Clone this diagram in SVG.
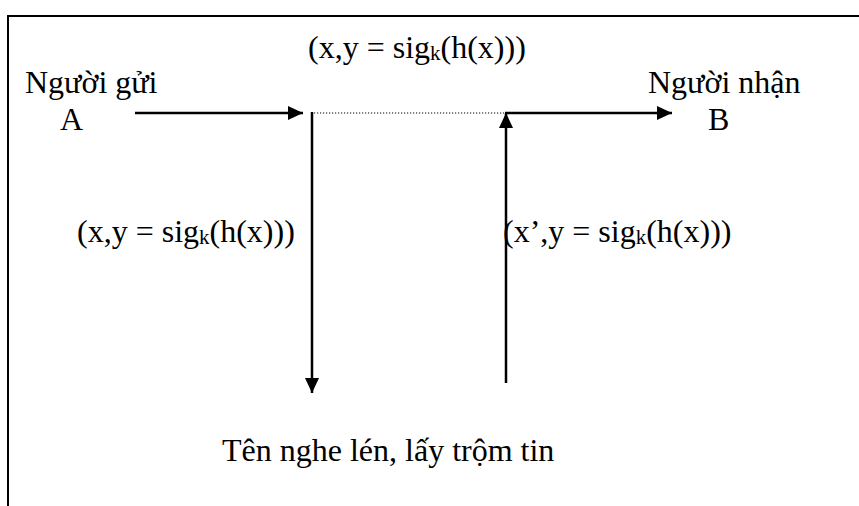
<svg xmlns="http://www.w3.org/2000/svg" width="859" height="506" viewBox="0 0 859 506">
<defs>
<marker id="ah" viewBox="0 0 15 14" refX="15" refY="7" markerWidth="15" markerHeight="14" markerUnits="userSpaceOnUse" orient="auto">
<path d="M0,0 L15,7 L0,14 Z" fill="#000"/>
</marker>
<style>
.t{font-family:'Liberation Serif', 'Times New Roman', Times, serif;font-size:32px;fill:#000}
.sub{font-size:21px}
.ln{stroke:#000;stroke-width:2.5;fill:none}
.frame{stroke:#000;stroke-width:2;fill:none}
</style>
</defs>
<rect width="859" height="506" fill="#fff"/>
<path class="frame" d="M8,506 L8,16 L859,16"/>
<g id="connectors">
<line class="ln" x1="135" y1="113" x2="303" y2="113" marker-end="url(#ah)"/>
<line x1="314" y1="113" x2="504" y2="113" stroke="#000" stroke-width="1.2" stroke-dasharray="1.2,1.8"/>
<line class="ln" x1="312" y1="112" x2="312" y2="393" marker-end="url(#ah)"/>
<line class="ln" x1="506" y1="383" x2="506" y2="113" marker-end="url(#ah)"/>
<line class="ln" x1="505" y1="113" x2="672" y2="113" marker-end="url(#ah)"/>
</g>
<g class="t" font-family="Liberation Serif, serif">
<g id="sender">
<text x="25" y="93">Người gửi</text>
<text x="60" y="130">A</text>
</g>
<g id="receiver">
<text x="648" y="93">Người nhận</text>
<text x="708" y="130">B</text>
</g>
<g id="label-top">
<text x="308" y="58">(x,y = sig<tspan class="sub" dy="2">k</tspan><tspan dy="-2">(h(x)))</tspan></text>
</g>
<g id="label-left">
<text x="77" y="242">(x,y = sig<tspan class="sub" dy="2">k</tspan><tspan dy="-2">(h(x)))</tspan></text>
</g>
<g id="label-right">
<text x="503" y="242">(x’,y = sig<tspan class="sub" dy="2">k</tspan><tspan dy="-2">(h(x)))</tspan></text>
</g>
<g id="eavesdropper">
<text x="222" y="461">Tên nghe lén, lấy trộm tin</text>
</g>
</g>
</svg>
